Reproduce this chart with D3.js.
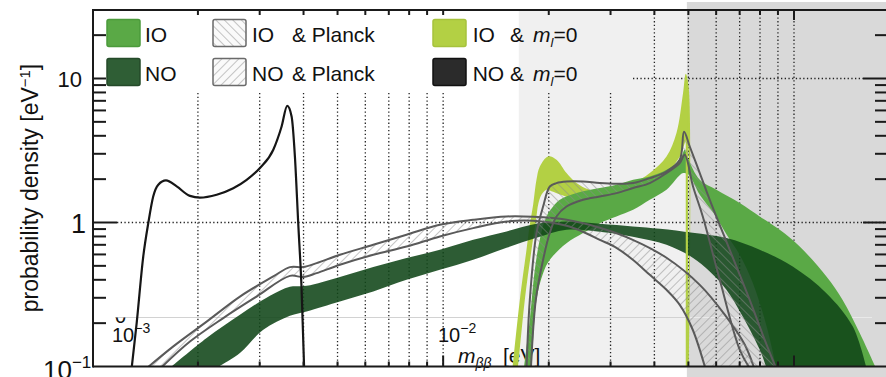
<!DOCTYPE html>
<html>
<head>
<meta charset="utf-8">
<script src="https://cdn.jsdelivr.net/npm/d3@7"></script>
<style>
  body { margin: 0; background: #fff; }
  svg { display: block; }
  text { font-family: "Liberation Sans", Arial, Helvetica, sans-serif; fill: #111; }
</style>
</head>
<body>
<svg id="chart" width="886" height="377"></svg>
<script>
// ---- data (m_bb in eV, probability density in 1/eV) ----
const xTickVals = [2e-3, 3e-3, 4e-3, 5e-3, 6e-3, 7e-3, 8e-3, 9e-3, 1e-2,
                   2e-2, 3e-2, 4e-2, 5e-2, 6e-2, 7e-2, 8e-2, 9e-2, 1e-1];
const yTickVals = [0.2, 0.3, 0.4, 0.5, 0.6, 0.7, 0.8, 0.9, 1, 2, 3, 4, 5, 6, 7, 8, 9, 10, 20];
const shadedRanges = [[1.643e-2, 4.95e-2], [4.95e-2, 0.2]];

// NO & m_l=0 (black curve)
const noM0Curve = [[1.29e-3, 0.09], [1.338e-3, 0.200], [1.397e-3, 0.580], [1.444e-3, 0.99],
  [1.492e-3, 1.52], [1.542e-3, 1.83], [1.622e-3, 1.96], [1.740e-3, 1.78], [1.898e-3, 1.53],
  [2.026e-3, 1.49], [2.262e-3, 1.56], [2.522e-3, 1.73], [2.754e-3, 1.98], [3.005e-3, 2.39],
  [3.28e-3, 3.20], [3.464e-3, 4.64], [3.594e-3, 6.46], [3.699e-3, 5.45], [3.78e-3, 2.87],
  [3.863e-3, 0.99], [3.95e-3, 0.341], [4.02e-3, 0.09]];

// NO band
const noBandUpper = [[1.665e-3, 0.098], [2.118e-3, 0.158], [2.635e-3, 0.229], [3.209e-3, 0.310],
  [3.658e-3, 0.358], [4.082e-3, 0.363], [5.078e-3, 0.418], [6.322e-3, 0.490], [7.864e-3, 0.566],
  [9.786e-3, 0.646], [1.218e-2, 0.758], [1.516e-2, 0.866], [1.845e-2, 0.980], [2.247e-2, 1.016],
  [2.796e-2, 0.979], [3.472e-2, 0.938], [4.145e-2, 0.904], [5.145e-2, 0.848], [6.418e-2, 0.779],
  [7.985e-2, 0.646], [9.915e-2, 0.495], [0.1237, 0.323], [0.1470, 0.190], [0.1608, 0.098]];
const noBandLower = [[8.344e-2, 0.098], [7.985e-2, 0.131], [7.143e-2, 0.2225], [6.418e-2, 0.341],
  [5.753e-2, 0.457], [5.145e-2, 0.569], [4.331e-2, 0.700], [3.472e-2, 0.796], [2.796e-2, 0.862],
  [2.247e-2, 0.890], [1.845e-2, 0.783], [1.516e-2, 0.667], [1.218e-2, 0.551], [9.786e-3, 0.469],
  [7.864e-3, 0.400], [6.322e-3, 0.332], [5.078e-3, 0.283], [4.082e-3, 0.241], [3.658e-3, 0.225],
  [3.071e-3, 0.180], [2.635e-3, 0.124], [2.262e-3, 0.098]];

// IO band
const ioBandUpper = [[1.698e-2, 0.095], [1.766e-2, 0.211], [1.825e-2, 0.469], [1.885e-2, 0.758],
  [1.970e-2, 1.101], [2.058e-2, 1.291], [2.151e-2, 1.437], [2.399e-2, 1.600], [2.796e-2, 1.734],
  [3.119e-2, 1.827], [3.479e-2, 1.979], [3.881e-2, 2.086], [4.331e-2, 2.323], [4.624e-2, 2.586],
  [4.787e-2, 2.905], [4.881e-2, 3.198], [4.979e-2, 2.814], [5.388e-2, 1.979], [6.010e-2, 1.687],
  [7.002e-2, 1.364], [7.985e-2, 1.101], [9.106e-2, 0.890], [0.1038, 0.681], [0.1237, 0.422],
  [0.1376, 0.290], [0.1539, 0.171], [0.1720, 0.095]];
const ioBandLower = [[8.928e-2, 0.095], [8.360e-2, 0.189], [7.627e-2, 0.381], [7.002e-2, 0.597],
  [6.431e-2, 0.822], [5.944e-2, 1.131], [5.388e-2, 1.557], [5.012e-2, 2.145], [4.828e-2, 2.203],
  [4.331e-2, 1.687], [3.881e-2, 1.437], [3.479e-2, 1.225], [3.119e-2, 1.101], [2.796e-2, 0.990],
  [2.505e-2, 0.844], [2.247e-2, 0.719], [2.014e-2, 0.551], [1.927e-2, 0.445], [1.845e-2, 0.290],
  [1.789e-2, 0.095]];

// IO & m_l=0 band
const ioM0Upper = [[1.575e-2, 0.095], [1.654e-2, 0.290], [1.728e-2, 0.646], [1.766e-2, 0.964],
  [1.805e-2, 1.327], [1.845e-2, 1.979], [1.885e-2, 2.437], [1.991e-2, 2.873], [2.104e-2, 2.726],
  [2.247e-2, 2.203], [2.399e-2, 1.878], [2.617e-2, 1.687], [2.985e-2, 1.687], [3.479e-2, 1.878],
  [3.881e-2, 2.203], [4.331e-2, 2.873], [4.624e-2, 4.177], [4.828e-2, 7.92], [4.915e-2, 10.78],
  [5.012e-2, 8.62], [5.012e-2, 0.095]];
const ioM0Lower = [[4.947e-2, 0.095], [4.947e-2, 3.752], [4.725e-2, 2.860], [4.331e-2, 2.214],
  [3.881e-2, 1.979], [3.479e-2, 1.770], [3.119e-2, 1.634], [2.505e-2, 1.437], [2.247e-2, 1.508],
  [2.058e-2, 1.634], [1.970e-2, 1.687], [1.906e-2, 1.557], [1.865e-2, 1.327], [1.845e-2, 1.101],
  [1.786e-2, 0.646], [1.709e-2, 0.290], [1.633e-2, 0.095]];
const ioM0Cut = [[4.95e-2, 0.095], [4.95e-2, 8.6]];

// IO & Planck band
const ioPlanckUpper = [[1.728e-2, 0.095], [1.766e-2, 0.290], [1.845e-2, 0.844], [1.927e-2, 1.291],
  [2.014e-2, 1.778], [2.104e-2, 1.878], [2.247e-2, 1.926], [2.505e-2, 1.926], [2.796e-2, 1.878],
  [3.119e-2, 1.857], [3.479e-2, 1.878], [3.881e-2, 2.033], [4.331e-2, 2.261], [4.725e-2, 2.726],
  [4.859e-2, 4.265], [5.045e-2, 3.372], [5.388e-2, 2.203], [5.753e-2, 1.437], [6.558e-2, 0.646],
  [7.477e-2, 0.290], [8.251e-2, 0.153], [8.928e-2, 0.095]];
const ioPlanckLower = [[7.526e-2, 0.095], [7.002e-2, 0.131], [6.143e-2, 0.400], [5.495e-2, 1.101],
  [5.155e-2, 1.778], [4.881e-2, 2.952], [4.725e-2, 2.586], [4.331e-2, 2.203], [3.881e-2, 1.878],
  [3.479e-2, 1.734], [3.119e-2, 1.600], [2.796e-2, 1.516], [2.505e-2, 1.437], [2.247e-2, 1.291],
  [2.104e-2, 1.101], [2.014e-2, 0.848], [1.927e-2, 0.551], [1.837e-2, 0.290], [1.778e-2, 0.095]];

// NO & Planck band
const noPlanckUpper = [[1.413e-3, 0.095], [1.702e-3, 0.138], [2.118e-3, 0.205], [2.635e-3, 0.306],
  [3.280e-3, 0.422], [3.658e-3, 0.490], [3.992e-3, 0.490], [4.359e-3, 0.522], [5.078e-3, 0.597],
  [6.322e-3, 0.700], [7.864e-3, 0.822], [9.786e-3, 0.964], [1.218e-2, 1.044], [1.516e-2, 1.101],
  [1.805e-2, 1.095], [2.247e-2, 1.044], [2.796e-2, 0.919], [3.472e-2, 0.758], [4.331e-2, 0.569],
  [5.388e-2, 0.369], [6.347e-2, 0.229], [7.235e-2, 0.142], [7.727e-2, 0.095]];
const noPlanckLower = [[5.603e-2, 0.095], [5.145e-2, 0.180], [4.725e-2, 0.268], [4.331e-2, 0.341],
  [3.881e-2, 0.433], [3.472e-2, 0.551], [3.119e-2, 0.667], [2.796e-2, 0.758], [2.500e-2, 0.862],
  [2.247e-2, 0.949], [1.805e-2, 1.028], [1.516e-2, 1.016], [1.218e-2, 0.914], [9.786e-3, 0.800],
  [7.864e-3, 0.681], [6.322e-3, 0.597], [5.078e-3, 0.509], [4.359e-3, 0.445], [3.992e-3, 0.418],
  [3.658e-3, 0.426], [2.940e-3, 0.306], [2.362e-3, 0.217], [1.898e-3, 0.149], [1.549e-3, 0.095]];

const legendLabels = ['IO', 'NO', 'IO', 'NO', 'IO', 'NO'];

// ---- layout ----
const W = 886, H = 377;
const pL = 93, pR = 886, pT = 10, pB = 366.5;
const svg = d3.select('#chart');

const x = d3.scaleLog().domain([1e-3, 1e-1]).range([92.3, 794]);
const y = d3.scaleLog().domain([0.1, 10]).range([366.5, 78.5]);

const defs = svg.append('defs');
defs.append('clipPath').attr('id', 'plotClip')
  .append('rect').attr('x', pL).attr('y', pT).attr('width', pR - pL).attr('height', pB - pT);
defs.append('clipPath').attr('id', 'fragClip')
  .append('rect').attr('x', 100).attr('y', 317.5).attr('width', 40).attr('height', 20);

function hatch(id, angle) {
  const p = defs.append('pattern').attr('id', id)
    .attr('patternUnits', 'userSpaceOnUse').attr('width', 6).attr('height', 6)
    .attr('patternTransform', `rotate(${angle})`);
  p.append('line').attr('x1', 0).attr('y1', 0).attr('x2', 0).attr('y2', 6)
    .style('stroke', '#8c8c8c').style('stroke-width', 1);
}
hatch('hatchIO', -45);
hatch('hatchNO', 45);

const line = d3.line().x(d => x(d[0])).y(d => y(d[1])).curve(d3.curveCatmullRom.alpha(0.5));
const bandPath = (up, lo) => line(up) + 'L' + line(lo).slice(1) + 'Z';

// shaded background regions
svg.append('rect').attr('x', x(shadedRanges[0][0])).attr('y', pT)
  .attr('width', x(shadedRanges[0][1]) - x(shadedRanges[0][0])).attr('height', pB - pT)
  .style('fill', '#f0f0f0');
svg.append('rect').attr('x', x(shadedRanges[1][0])).attr('y', 2)
  .attr('width', W - x(shadedRanges[1][0])).attr('height', H - 2)
  .style('fill', '#d9d9d9');

// faint stray line
svg.append('line').attr('x1', 115).attr('x2', x(shadedRanges[1][0])).attr('y1', 317.5).attr('y2', 317.5)
  .style('stroke', '#d2d2d2').style('stroke-width', 1);
svg.append('line').attr('x1', x(shadedRanges[1][0])).attr('x2', 872).attr('y1', 317.5).attr('y2', 317.5)
  .style('stroke', '#e9e9e9').style('stroke-width', 1);

// grid
const grid = svg.append('g').style('stroke', '#222').style('stroke-width', 1.3)
  .style('stroke-dasharray', '1.3,2.4');
xTickVals.forEach(v => {
  grid.append('line').attr('x1', x(v)).attr('x2', x(v))
    .attr('y1', v >= 4e-2 ? pT : 93).attr('y2', pB);
});
grid.append('line').attr('x1', 117).attr('x2', pR).attr('y1', y(1)).attr('y2', y(1));
grid.append('line').attr('x1', 633).attr('x2', 863).attr('y1', y(10)).attr('y2', y(10));

// stray inner axis labels (under the bands)
const inner = svg.append('g');
inner.append('text').attr('x', 115).attr('y', 323).style('font-size', '20px')
  .attr('clip-path', 'url(#fragClip)').text('0');
function pow10(g, px, py, exp) {
  const t = g.append('text').attr('x', px).attr('y', py).style('font-size', '20px');
  t.append('tspan').text('10');
  t.append('tspan').attr('dy', -9).style('font-size', '14px').text('\u2212' + exp);
  return t;
}
pow10(inner, 112, 342, 3);
pow10(inner, 438, 342, 2);
const mt = inner.append('text').attr('x', 458).attr('y', 363).style('font-size', '21px');
mt.append('tspan').style('font-style', 'italic').text('m');
mt.append('tspan').attr('dy', 5).style('font-size', '14px').style('font-style', 'italic').text('\u03b2\u03b2');
mt.append('tspan').attr('x', 503).attr('dy', -5).text('[eV]');

// data marks
const plot = svg.append('g').attr('clip-path', 'url(#plotClip)');
plot.append('path').attr('d', bandPath(ioM0Upper, ioM0Lower)).style('fill', '#b3d044');
plot.append('path').attr('d', bandPath(ioBandUpper, ioBandLower)).style('fill', '#5aa946');
plot.append('path').attr('d', bandPath(noBandUpper, noBandLower))
  .style('fill', 'rgb(16,70,24)').style('opacity', 0.88);
plot.append('path').attr('d', d3.line().x(d => x(d[0])).y(d => y(d[1]))(ioM0Cut))
  .style('stroke', '#b3d044').style('stroke-width', 2.2).style('fill', 'none');

[[noPlanckUpper, noPlanckLower, 'hatchNO'], [ioPlanckUpper, ioPlanckLower, 'hatchIO']].forEach(b => {
  plot.append('path').attr('d', bandPath(b[0], b[1])).style('fill', `url(#${b[2]})`);
  [b[0], b[1]].forEach(edge => {
    plot.append('path').attr('d', line(edge)).style('fill', 'none')
      .style('stroke', '#5a5a5a').style('stroke-width', 2);
  });
});

plot.append('path')
  .attr('d', d3.line().x(d => x(d[0])).y(d => y(d[1])).curve(d3.curveMonotoneX)(noM0Curve))
  .style('fill', 'none').style('stroke', '#161616').style('stroke-width', 2.2);

// frame and ticks
const ax = svg.append('g').style('stroke', '#1a1a1a').style('stroke-width', 2);
ax.append('line').attr('x1', pL).attr('x2', pL).attr('y1', pT - 1).attr('y2', pB + 1);
ax.append('line').attr('x1', pL).attr('x2', W).attr('y1', pT).attr('y2', pT);
ax.append('line').attr('x1', pL).attr('x2', W).attr('y1', pB).attr('y2', pB);
xTickVals.forEach(v => {
  const tl = v === 1e-1 ? 10 : 5;
  const bl = (v === 1e-1 || v === 1e-2) ? 11 : 5;
  ax.append('line').attr('x1', x(v)).attr('x2', x(v)).attr('y1', pT).attr('y2', pT + tl);
  ax.append('line').attr('x1', x(v)).attr('x2', x(v)).attr('y1', pB).attr('y2', pB - bl);
});
yTickVals.forEach(v => {
  const ll = v === 1 ? 24 : 13;
  const rl = (v === 1 || v === 10) ? 23 : 11;
  ax.append('line').attr('x1', pL).attr('x2', pL + ll).attr('y1', y(v)).attr('y2', y(v));
  ax.append('line').attr('x1', W).attr('x2', W - rl).attr('y1', y(v)).attr('y2', y(v));
});

// y tick labels
svg.append('text').attr('x', 82).attr('y', y(10) + 8).attr('text-anchor', 'end')
  .style('font-size', '22px').text('10');
svg.append('text').attr('x', 86).attr('y', y(1) + 10).attr('text-anchor', 'end')
  .style('font-size', '27px').text('1');
const t01 = svg.append('text').attr('x', 43).attr('y', 379).style('font-size', '26px');
t01.append('tspan').text('10');
t01.append('tspan').attr('dy', -11).style('font-size', '17px').text('\u22121');

// y axis title
const yl = svg.append('text').attr('transform', 'translate(38,188) rotate(-90)')
  .attr('text-anchor', 'middle').style('font-size', '23px');
yl.append('tspan').text('probability density [eV');
yl.append('tspan').attr('dy', -8).style('font-size', '15px').text('\u22121');
yl.append('tspan').attr('dy', 8).text(']');

// legend
const lg = svg.append('g');
const boxes = [
  { x: 107, y: 19.5, fill: '#5aa946', stroke: '#4b9a3b' },
  { x: 107, y: 58.5, fill: '#2f5e35', stroke: '#244a29' },
  { x: 213, y: 19.5, fill: 'url(#hatchIO)', stroke: '#6a6a6a' },
  { x: 213, y: 58.5, fill: 'url(#hatchNO)', stroke: '#6a6a6a' },
  { x: 433, y: 19.5, fill: '#b3d044', stroke: '#a6c23c' },
  { x: 433, y: 58.5, fill: '#2b2b2b', stroke: '#111' }
];
boxes.forEach((b, i) => {
  if (i === 2 || i === 3) {
    lg.append('rect').attr('x', b.x).attr('y', b.y).attr('width', 33).attr('height', 27)
      .attr('rx', 2).style('fill', '#fafafa');
  }
  lg.append('rect').attr('x', b.x).attr('y', b.y).attr('width', 33).attr('height', 27)
    .attr('rx', 2).style('fill', b.fill).style('stroke', b.stroke).style('stroke-width', 1.5);
  const col = Math.floor(i / 2);
  const tx = [145, 252, 472.7][col];
  const ty = i % 2 === 0 ? 42 : 81;
  lg.append('text').attr('x', tx).attr('y', ty).style('font-size', '21px').text(legendLabels[i]);
  if (col === 1) {
    lg.append('text').attr('x', 292).attr('y', ty).style('font-size', '21px').text('& Planck');
  } else if (col === 2) {
    const t = lg.append('text').attr('x', 510).attr('y', ty).style('font-size', '21px');
    t.append('tspan').text('& ');
    t.append('tspan').attr('x', 533).style('font-style', 'italic').text('m');
    t.append('tspan').attr('dy', 5).style('font-size', '13px').style('font-style', 'italic').text('l');
    t.append('tspan').attr('dy', -5).text('=0');
  }
});
</script>
</body>
</html>
